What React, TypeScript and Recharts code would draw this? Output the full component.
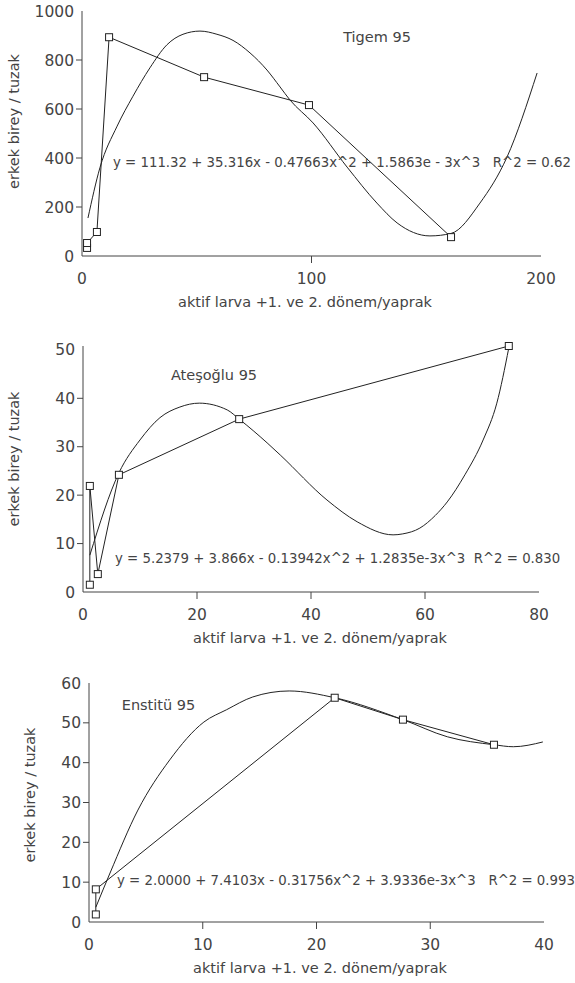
import React from 'react';
import { ComposedChart, Scatter, XAxis, YAxis } from 'recharts';

// Tigem 95
const tigemObs = [
  { x: 2.2, y: 33 },
  { x: 2.2, y: 53 },
  { x: 6.5, y: 98 },
  { x: 11.8, y: 893 },
  { x: 53.2, y: 730 },
  { x: 98.9, y: 616 },
  { x: 160.8, y: 77 },
];
const tigemFit = [
  { x: 2.6, y: 155 }, { x: 7.8, y: 360 }, { x: 15.3, y: 530 }, { x: 22.2, y: 652 },
  { x: 29.6, y: 768 }, { x: 37, y: 862 }, { x: 44, y: 905 }, { x: 51.4, y: 918 },
  { x: 58.8, y: 905 }, { x: 65.8, y: 880 }, { x: 73.2, y: 829 }, { x: 80.6, y: 759 },
  { x: 86.3, y: 690 }, { x: 90.6, y: 637 }, { x: 100.7, y: 543 }, { x: 115.5, y: 363 },
  { x: 128.5, y: 216 }, { x: 137.3, y: 135 }, { x: 151.6, y: 82 }, { x: 160.8, y: 92 },
  { x: 173.4, y: 216 }, { x: 185.2, y: 404 }, { x: 198.3, y: 747 },
];
const tigemXTicks = [0, 100, 200];
const tigemYTicks = [0, 200, 400, 600, 800, 1000];

// Ateşoğlu 95
const ateObs = [
  { x: 1.2, y: 1.5 },
  { x: 1.2, y: 21.9 },
  { x: 2.6, y: 3.7 },
  { x: 6.3, y: 24.2 },
  { x: 27.4, y: 35.7 },
  { x: 74.7, y: 50.8 },
];
const ateFit = [
  { x: 1.2, y: 7.6 }, { x: 6.3, y: 24.6 }, { x: 10, y: 31.4 }, { x: 13.5, y: 36 },
  { x: 17, y: 38.2 }, { x: 20.4, y: 39 }, { x: 25.3, y: 37.6 }, { x: 27.4, y: 35.7 },
  { x: 32.3, y: 30.8 }, { x: 34.6, y: 28.3 }, { x: 42.8, y: 19 }, { x: 48.1, y: 14.5 },
  { x: 54.4, y: 11.8 }, { x: 56.1, y: 12 }, { x: 59.1, y: 13.2 }, { x: 61.8, y: 15.8 },
  { x: 63.9, y: 18.6 }, { x: 67, y: 24.2 }, { x: 70.2, y: 31.4 }, { x: 72.6, y: 39 },
  { x: 74.7, y: 50.4 },
];
const ateXTicks = [0, 20, 40, 60, 80];
const ateYTicks = [0, 10, 20, 30, 40, 50];

// Enstitü 95
const ensObs = [
  { x: 0.6, y: 1.9 },
  { x: 0.6, y: 8.2 },
  { x: 21.6, y: 56.3 },
  { x: 27.6, y: 50.8 },
  { x: 35.6, y: 44.5 },
];
const ensFit = [
  { x: 0.6, y: 3.7 }, { x: 1.85, y: 12.3 }, { x: 4.3, y: 28.1 }, { x: 7.1, y: 40.7 },
  { x: 10.1, y: 50.2 }, { x: 12.1, y: 53.3 }, { x: 14.4, y: 56.5 }, { x: 17.6, y: 58 },
  { x: 21.6, y: 56.3 }, { x: 27.6, y: 50.8 }, { x: 31.5, y: 46.5 }, { x: 35.6, y: 44.5 },
  { x: 37.3, y: 44 }, { x: 39.9, y: 45.2 },
];
const ensXTicks = [0, 10, 20, 30, 40];
const ensYTicks = [0, 10, 20, 30, 40, 50, 60];

const FONT = '"DejaVu Sans", sans-serif';
const INK = '#444';
const LINE = '#222';

const Square = (props: any) => (
  <rect x={props.cx - 3.5} y={props.cy - 3.5} width={7} height={7} fill="#fff" stroke={LINE} strokeWidth={1} />
);
const NoDot = () => <g />;

const makeXTick = (ticks: number[]) => (props: any) => {
  const { x, y, payload } = props;
  const inner = payload.value !== ticks[0] && payload.value !== ticks[ticks.length - 1];
  return (
    <g>
      {inner && <line x1={x} y1={y} x2={x} y2={y + 7} stroke="#444" />}
      <text x={x} y={y + 28} textAnchor="middle" fill={INK} fontSize={15.5} fontFamily={FONT}>
        {payload.value}
      </text>
    </g>
  );
};

const makeYTick = (ticks: number[]) => (props: any) => {
  const { x, y, payload } = props;
  const inner = payload.value !== ticks[0] && payload.value !== ticks[ticks.length - 1];
  return (
    <g>
      {inner && <line x1={x - 6} y1={y} x2={x} y2={y} stroke="#444" />}
      <text x={x - 8} y={y + 5.6} textAnchor="end" fill={INK} fontSize={15.5} fontFamily={FONT}>
        {payload.value}
      </text>
    </g>
  );
};

interface PanelProps {
  top: number;
  height: number;
  yWidth: number;
  mTop: number;
  mRight: number;
  xHeight: number;
  xTicks: number[];
  yTicks: number[];
  obs: { x: number; y: number }[];
  fit: { x: number; y: number }[];
}

const Panel: React.FC<PanelProps> = ({ top, height, yWidth, mTop, mRight, xHeight, xTicks, yTicks, obs, fit }) => (
  <div style={{ position: 'absolute', left: 0, top, width: 575, height }}>
    <ComposedChart width={575} height={height} margin={{ top: mTop, right: mRight, bottom: 0, left: 0 }}>
      <XAxis
        type="number"
        dataKey="x"
        domain={[xTicks[0], xTicks[xTicks.length - 1]]}
        ticks={xTicks}
        interval={0}
        height={xHeight}
        tickSize={0}
        tickMargin={0}
        tickLine={false}
        axisLine={{ stroke: '#444' }}
        tick={makeXTick(xTicks)}
      />
      <YAxis
        type="number"
        dataKey="y"
        domain={[yTicks[0], yTicks[yTicks.length - 1]]}
        ticks={yTicks}
        interval={0}
        width={yWidth}
        tickSize={0}
        tickMargin={0}
        tickLine={false}
        axisLine={{ stroke: '#444' }}
        tick={makeYTick(yTicks)}
      />
      <Scatter
        data={fit}
        line={{ stroke: LINE, strokeWidth: 1 }}
        lineJointType="monotoneX"
        shape={NoDot}
        isAnimationActive={false}
      />
      <Scatter
        data={obs}
        line={{ stroke: LINE, strokeWidth: 1 }}
        lineJointType="linear"
        shape={Square}
        isAnimationActive={false}
      />
    </ComposedChart>
  </div>
);

const txt = { fill: INK, fontFamily: FONT } as const;
const EQ = 13.3;

export default function App() {
  return (
    <div style={{ position: 'absolute', left: 0, top: 0, width: 575, height: 983, background: '#fff' }}>
      <Panel top={0} height={320} yWidth={82} mTop={11} mRight={34} xHeight={64}
        xTicks={tigemXTicks} yTicks={tigemYTicks} obs={tigemObs} fit={tigemFit} />
      <Panel top={330} height={320} yWidth={83} mTop={16} mRight={36} xHeight={58}
        xTicks={ateXTicks} yTicks={ateYTicks} obs={ateObs} fit={ateFit} />
      <Panel top={660} height={323} yWidth={89} mTop={23} mRight={31} xHeight={61}
        xTicks={ensXTicks} yTicks={ensYTicks} obs={ensObs} fit={ensFit} />

      <svg width={575} height={983} style={{ position: 'absolute', left: 0, top: 0, pointerEvents: 'none' }}>
        {/* Tigem 95 */}
        <text x={377} y={42} textAnchor="middle" fontSize={14.5} {...txt}>Tigem 95</text>
        <text x={113} y={167} fontSize={EQ} style={{ whiteSpace: 'pre' }} {...txt}>
          {'y = 111.32 + 35.316x - 0.47663x^2 + 1.5863e - 3x^3   R^2 = 0.62'}
        </text>
        <text x={19} y={121.5} textAnchor="middle" fontSize={14.5} transform="rotate(-90 19 121.5)" {...txt}>
          erkek birey / tuzak
        </text>
        <text x={305} y={306.5} textAnchor="middle" fontSize={14.5} {...txt}>aktif larva +1. ve 2. dönem/yaprak</text>

        {/* Ateşoğlu 95 */}
        <text x={214} y={380} textAnchor="middle" fontSize={14.5} {...txt}>Ateşoğlu 95</text>
        <text x={115} y={563} fontSize={EQ} style={{ whiteSpace: 'pre' }} {...txt}>
          {'y = 5.2379 + 3.866x - 0.13942x^2 + 1.2835e-3x^3  R^2 = 0.830'}
        </text>
        <text x={19} y={459} textAnchor="middle" fontSize={14.5} transform="rotate(-90 19 459)" {...txt}>
          erkek birey / tuzak
        </text>
        <text x={320} y={643} textAnchor="middle" fontSize={14.5} {...txt}>aktif larva +1. ve 2. dönem/yaprak</text>

        {/* Enstitü 95 */}
        <text x={158.5} y={710} textAnchor="middle" fontSize={14.5} {...txt}>Enstitü 95</text>
        <text x={117} y={885} fontSize={EQ} style={{ whiteSpace: 'pre' }} {...txt}>
          {'y = 2.0000 + 7.4103x - 0.31756x^2 + 3.9336e-3x^3   R^2 = 0.993'}
        </text>
        <text x={35} y={795} textAnchor="middle" fontSize={14.5} transform="rotate(-90 35 795)" {...txt}>
          erkek birey / tuzak
        </text>
        <text x={320} y={973} textAnchor="middle" fontSize={14.5} {...txt}>aktif larva +1. ve 2. dönem/yaprak</text>
      </svg>
    </div>
  );
}
